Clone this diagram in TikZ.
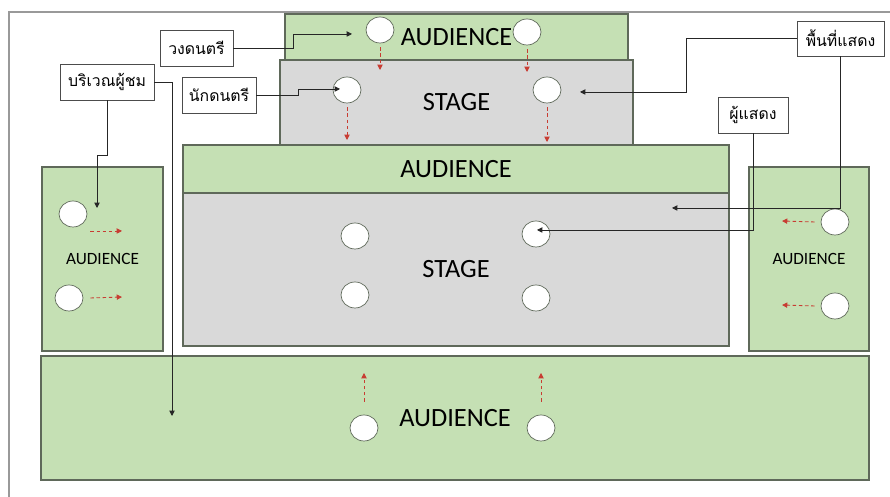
\documentclass[tikz,border=0pt]{standalone}
\usepackage{fontspec}
\setmainfont{Carlito}
\newfontfamily\thaifont[Script=Thai]{Loma}
\usetikzlibrary{arrows.meta,shapes.geometric}
\definecolor{seatgreen}{RGB}{197,224,180}
\definecolor{stagegray}{RGB}{217,217,217}
\definecolor{edgegray}{RGB}{95,105,90}
\definecolor{flowred}{RGB}{200,60,50}

\begin{document}
\begin{tikzpicture}[
  zone/.style={draw=edgegray, line width=0.6pt, rectangle, inner sep=0pt},
  seats/.style={zone, fill=seatgreen},
  stagebox/.style={zone, fill=stagegray},
  spot/.style={draw=edgegray, fill=white, ellipse, minimum width=0.56cm, minimum height=0.52cm, inner sep=0pt},
  tag/.style={draw=black!70, fill=white, rectangle, minimum height=0.72cm, inner sep=2pt, font=\thaifont\fontsize{9}{11}\selectfont},
  callout/.style={draw=black!85, line width=0.5pt, -{Triangle[length=3pt,width=3pt]}},
  flow/.style={draw=flowred, dash pattern=on 2pt off 1.5pt, line width=0.5pt, -{Triangle[length=3pt,width=3pt]}},
  big/.style={font=\fontsize{15}{18}\selectfont},
  small/.style={font=\fontsize{9.8}{12}\selectfont}
]
\useasboundingbox (0,0) rectangle (17.80,9.94);

% Outer frame
\draw [black!40, line width=0.6pt] (0.18,0.00) -- (0.18,9.70) -- (17.80,9.70);

% Stages
\node (stage1) [stagebox, big, minimum width=7.06cm, minimum height=1.70cm] at ( 9.13, 7.89) {STAGE};
\node (stage2) [stagebox, big, minimum width=10.92cm, minimum height=3.06cm] at ( 9.12, 4.55) {STAGE};

% Audience areas
\node (aud1) [seats, big, minimum width=6.86cm, minimum height=0.92cm] at ( 9.13, 9.20) {AUDIENCE};
\node (aud2) [seats, big, minimum width=10.92cm, minimum height=0.96cm] at ( 9.12, 6.56) {AUDIENCE};
\node (audl) [seats, small, minimum width=2.42cm, minimum height=3.68cm] at ( 2.05, 4.76) {AUDIENCE};
\node (audr) [seats, small, minimum width=2.40cm, minimum height=3.68cm] at (16.18, 4.76) {AUDIENCE};
\node (aud3) [seats, big, minimum width=16.56cm, minimum height=2.48cm] at ( 9.10, 1.58) {AUDIENCE};

% Band and musicians
\node (band1) [spot] at ( 7.60, 9.34) {};
\node (band2) [spot] at (10.54, 9.30) {};
\node (mus1)  [spot] at ( 6.94, 8.14) {};
\node (mus2)  [spot] at (10.94, 8.14) {};

% Actors
\node (act1) [spot] at ( 7.10, 5.22) {};
\node (act2) [spot] at (10.72, 5.26) {};
\node (act3) [spot] at ( 7.10, 4.04) {};
\node (act4) [spot] at (10.72, 3.98) {};

% Audience members
\node (seatl1) [spot] at ( 1.46, 5.66) {};
\node (seatl2) [spot] at ( 1.38, 3.98) {};
\node (seatr1) [spot] at (16.70, 5.50) {};
\node (seatr2) [spot] at (16.70, 3.82) {};
\node (seatb1) [spot] at ( 7.28, 1.38) {};
\node (seatb2) [spot] at (10.82, 1.38) {};

% Labels
\node (lband) [tag, minimum width=1.46cm] at ( 3.93, 8.98) {วงดนตรี};
\node (lmus)  [tag, minimum width=1.48cm] at ( 4.38, 8.04) {นักดนตรี};
\node (laud)  [tag, minimum width=1.88cm] at ( 2.14, 8.30) {บริเวณผู้ชม};
\node (larea) [tag, minimum width=1.74cm, minimum height=0.70cm] at (16.81, 9.17) {พื้นที่แสดง};
\node (lact)  [tag, minimum width=1.40cm] at (15.06, 7.64) {ผู้แสดง};

% Arrow ends
\coordinate (k1) at ( 7.04, 9.26);
\coordinate (k2) at ( 6.80, 8.16);
\coordinate (k3) at ( 1.94, 5.78);
\coordinate (k4) at ( 3.44, 1.62);
\coordinate (k5) at (11.60, 8.10);
\coordinate (k6) at (13.44, 5.78);
\coordinate (k7) at (10.74, 5.34);

\coordinate (t1) at ( 7.60, 8.54);
\coordinate (t2) at (10.54, 8.50);
\coordinate (t3) at ( 6.94, 7.14);
\coordinate (t4) at (10.94, 7.10);
\coordinate (l1) at ( 2.44, 5.32);
\coordinate (l2) at ( 2.44, 4.00);
\coordinate (r1) at (15.64, 5.52);
\coordinate (r2) at (15.64, 3.84);
\coordinate (b1) at ( 7.28, 2.48);
\coordinate (b2) at (10.82, 2.48);

% Callouts
\draw [callout] (lband.east) -- ++(1.20,0) |- (k1);
\draw [callout] (lmus.east) -- ++(0.84,0) |- (k2);
\draw [callout] (laud.south) -- ++(0,-1.10) -| (k3);
\draw [callout] (laud.east) -| (k4);
\draw [callout] (larea.west) -- ++(-2.20,0) |- (k5);
\draw [callout] (larea.south) |- (k6);
\draw [callout] (lact.south) |- (k7);

% Movement
\draw [flow] ([yshift=-0.08cm]band1.south) -- (t1);
\draw [flow] ([yshift=-0.08cm]band2.south) -- (t2);
\draw [flow] ([yshift=-0.08cm]mus1.south) -- (t3);
\draw [flow] ([yshift=-0.08cm]mus2.south) -- (t4);
\draw [flow] ([xshift=0.06cm,yshift=-0.34cm]seatl1.east) -- (l1);
\draw [flow] ([xshift=0.14cm]seatl2.east) -- (l2);
\draw [flow] ([xshift=-0.12cm]seatr1.west) -- (r1);
\draw [flow] ([xshift=-0.12cm]seatr2.west) -- (r2);
\draw [flow] ([yshift=0.26cm]seatb1.north) -- (b1);
\draw [flow] ([yshift=0.26cm]seatb2.north) -- (b2);

\end{tikzpicture}
\end{document}
